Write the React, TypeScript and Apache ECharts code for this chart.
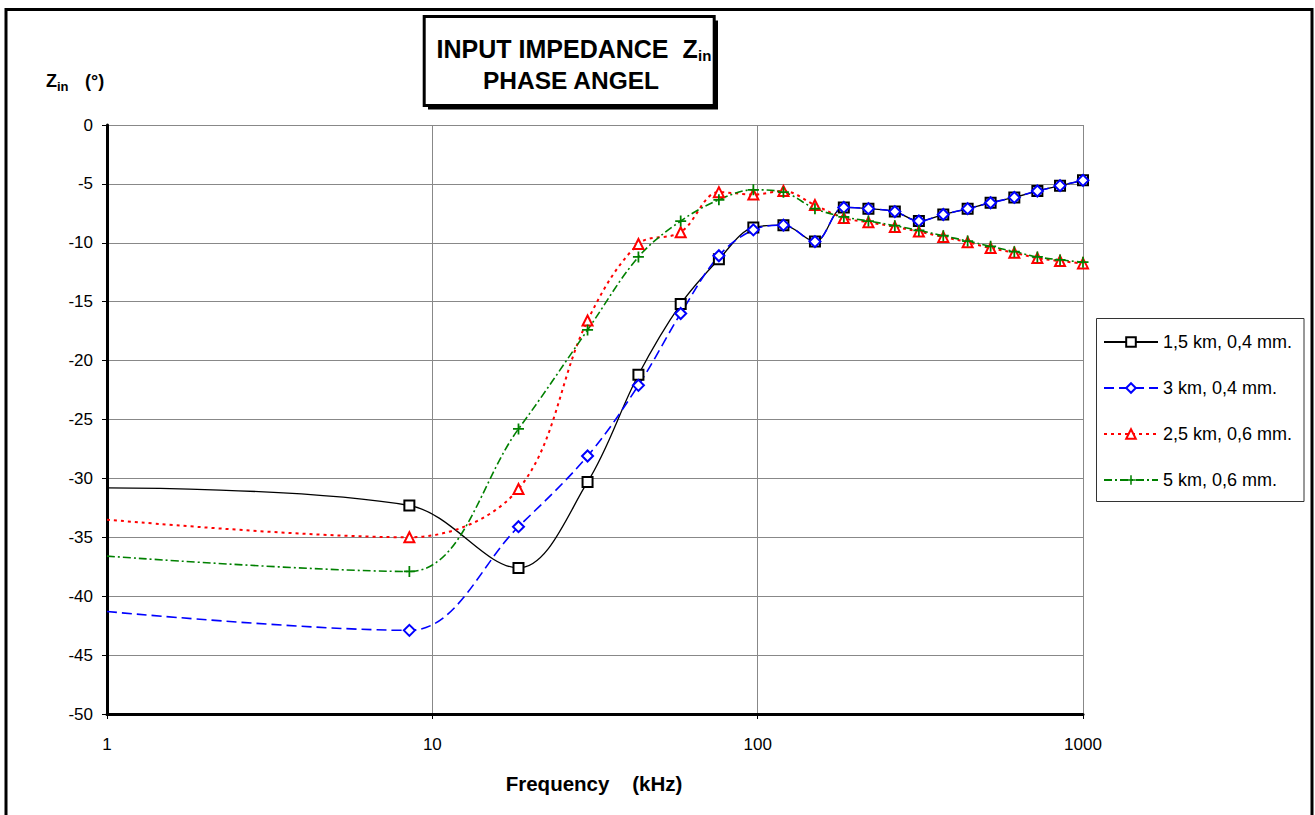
import React, { useEffect, useRef } from 'react';
import * as echarts from 'echarts';

// Frequencies (kHz) of the measured points
const freqKHz = [1, 8.5, 18.4, 30, 43, 58, 76, 97, 120, 150, 184, 219, 264, 313, 372, 442, 520, 615, 724, 850, 1000];

const seriesNames = ['1,5 km, 0,4 mm.', '3 km, 0,4 mm.', '2,5 km, 0,6 mm.', '5 km, 0,6 mm.'];

// Phase angle of Zin (degrees)
const phase15km04 = [-30.8, -32.3, -37.6, -30.3, -21.2, -15.2, -11.4, -8.7, -8.5, -9.9, -7.0, -7.1, -7.35, -8.15, -7.6, -7.1, -6.6, -6.15, -5.6, -5.15, -4.7];
const phase3km04 = [-41.3, -42.9, -34.1, -28.1, -22.1, -16.0, -11.1, -8.9, -8.5, -9.9, -7.0, -7.1, -7.35, -8.15, -7.6, -7.1, -6.6, -6.15, -5.6, -5.15, -4.7];
const phase25km06 = [-33.5, -35.0, -30.9, -16.6, -10.1, -9.1, -5.7, -5.9, -5.6, -6.8, -7.9, -8.25, -8.65, -9.05, -9.5, -9.95, -10.45, -10.85, -11.3, -11.55, -11.75];
const phase5km06 = [-36.6, -37.9, -25.8, -17.4, -11.2, -8.15, -6.35, -5.5, -5.7, -7.1, -7.8, -8.15, -8.55, -8.95, -9.4, -9.85, -10.3, -10.75, -11.2, -11.45, -11.65];

const xTickLabels = ['1', '10', '100', '1000'];
const yMin = -50;
const yMax = 0;
const yStep = 5;

const FONT = "'Liberation Sans', Arial, Helvetica, sans-serif";
const PLUS = 'path://M4.2,0H5.8V4.2H10V5.8H5.8V10H4.2V5.8H0V4.2H4.2Z';

function toData(vals: number[]) {
  return freqKHz.map((f, i) => (i === 0 ? { value: [f, vals[i]], symbol: 'none' } : [f, vals[i]]));
}

export default function App() {
  const ref = useRef<HTMLDivElement>(null);
  useEffect(() => {
    const chart = echarts.init(ref.current!, null, { renderer: 'svg' });
    const common = {
      type: 'line',
      smooth: 0.35,
      showAllSymbol: true,
      emphasis: { disabled: true },
      clip: false,
    };
    chart.setOption({
      animation: false,
      backgroundColor: '#fff',
      textStyle: { fontFamily: FONT },
      grid: { left: 107, right: 232, top: 125, bottom: 101, containLabel: false },
      legend: {
        orient: 'vertical',
        left: 1103,
        top: 333,
        padding: 0,
        itemWidth: 54,
        itemHeight: 12,
        itemGap: 28,
        selectedMode: false,
        textStyle: { fontSize: 18, color: '#000', fontFamily: FONT },
        data: seriesNames,
      },
      xAxis: {
        type: 'log',
        logBase: 10,
        min: 1,
        max: 1000,
        axisLine: { show: true, onZero: false, lineStyle: { color: '#000', width: 3 } },
        axisTick: { show: true, length: 5, lineStyle: { color: '#000', width: 1 } },
        minorTick: { show: false },
        splitLine: { show: true, lineStyle: { color: '#888', width: 1 } },
        axisLabel: {
          fontSize: 17,
          color: '#000',
          margin: 22,
          fontFamily: FONT,
          formatter: (v: number) => xTickLabels[Math.round(Math.log10(v))] ?? '',
        },
      },
      yAxis: {
        type: 'value',
        min: yMin,
        max: yMax,
        interval: yStep,
        axisLine: { show: true, onZero: false, lineStyle: { color: '#000', width: 3 } },
        axisTick: { show: true, length: 5, lineStyle: { color: '#000', width: 1 } },
        splitLine: { show: true, lineStyle: { color: '#888', width: 1 } },
        axisLabel: {
          fontSize: 17,
          color: '#000',
          margin: 14,
          padding: [9, 0, 0, 0],
          fontFamily: FONT,
        },
      },
      series: [
        {
          ...common,
          name: seriesNames[0],
          data: toData(phase15km04),
          symbol: 'emptyRect',
          symbolSize: 10,
          lineStyle: { color: '#000', width: 1.3, type: 'solid' },
          itemStyle: { color: '#000', borderWidth: 1.5 },
        },
        {
          ...common,
          name: seriesNames[1],
          data: toData(phase3km04),
          symbol: 'emptyDiamond',
          symbolSize: 11,
          lineStyle: { color: '#0000ff', width: 1.6, type: [10, 5] },
          itemStyle: { color: '#0000ff', borderWidth: 2 },
        },
        {
          ...common,
          name: seriesNames[2],
          data: toData(phase25km06),
          symbol: 'emptyTriangle',
          symbolSize: 10,
          lineStyle: { color: '#ff0000', width: 2, type: [3, 4] },
          itemStyle: { color: '#ff0000', borderWidth: 1.6 },
        },
        {
          ...common,
          name: seriesNames[3],
          data: toData(phase5km06),
          symbol: PLUS,
          symbolSize: 11,
          lineStyle: { color: '#008000', width: 1.6, type: [8, 3, 2, 3] },
          itemStyle: { color: '#008000' },
        },
      ],
      graphic: [
        // outer frame
        {
          type: 'rect',
          shape: { x: 6, y: 9.5, width: 1306, height: 900 },
          style: { fill: 'none', stroke: '#000', lineWidth: 3 },
          silent: true,
        },
        // title box shadow + box
        {
          type: 'rect',
          shape: { x: 428, y: 20.5, width: 290, height: 89 },
          style: { fill: '#000' },
          silent: true,
        },
        {
          type: 'rect',
          shape: { x: 424.2, y: 16.5, width: 290, height: 89 },
          style: { fill: '#fff', stroke: '#000', lineWidth: 3 },
          silent: true,
        },
        {
          type: 'text',
          x: 697.7,
          y: 48.5,
          style: { text: 'INPUT IMPEDANCE  Z', fontSize: 25, fontWeight: 'bold', fontFamily: FONT, fill: '#000', align: 'right', verticalAlign: 'middle' },
          silent: true,
        },
        {
          type: 'text',
          x: 698,
          y: 55.5,
          style: { text: 'in', fontSize: 15, fontWeight: 'bold', fontFamily: FONT, fill: '#000', align: 'left', verticalAlign: 'middle' },
          silent: true,
        },
        {
          type: 'text',
          x: 571,
          y: 80.5,
          style: { text: 'PHASE ANGEL', fontSize: 24.5, fontWeight: 'bold', fontFamily: FONT, fill: '#000', align: 'center', verticalAlign: 'middle' },
          silent: true,
        },
        // y axis title
        {
          type: 'text',
          x: 46,
          y: 80.5,
          style: { text: 'Z', fontSize: 18, fontWeight: 'bold', fontFamily: FONT, fill: '#000', align: 'left', verticalAlign: 'middle' },
          silent: true,
        },
        {
          type: 'text',
          x: 57,
          y: 86,
          style: { text: 'in', fontSize: 13, fontWeight: 'bold', fontFamily: FONT, fill: '#000', align: 'left', verticalAlign: 'middle' },
          silent: true,
        },
        {
          type: 'text',
          x: 85,
          y: 81,
          style: { text: '(°)', fontSize: 18, fontWeight: 'bold', fontFamily: FONT, fill: '#000', align: 'left', verticalAlign: 'middle' },
          silent: true,
        },
        // x axis title
        {
          type: 'text',
          x: 594,
          y: 783,
          style: { text: 'Frequency    (kHz)', fontSize: 20.5, fontWeight: 'bold', fontFamily: FONT, fill: '#000', align: 'center', verticalAlign: 'middle' },
          silent: true,
        },
        // legend frame
        {
          type: 'rect',
          shape: { x: 1096.5, y: 318.5, width: 207.5, height: 183 },
          style: { fill: 'none', stroke: '#333', lineWidth: 1 },
          silent: true,
          z: -1,
        },
      ],
    });
    return () => chart.dispose();
  }, []);
  return <div ref={ref} style={{ position: 'absolute', left: 0, top: 0, width: 1315, height: 815 }} />;
}
